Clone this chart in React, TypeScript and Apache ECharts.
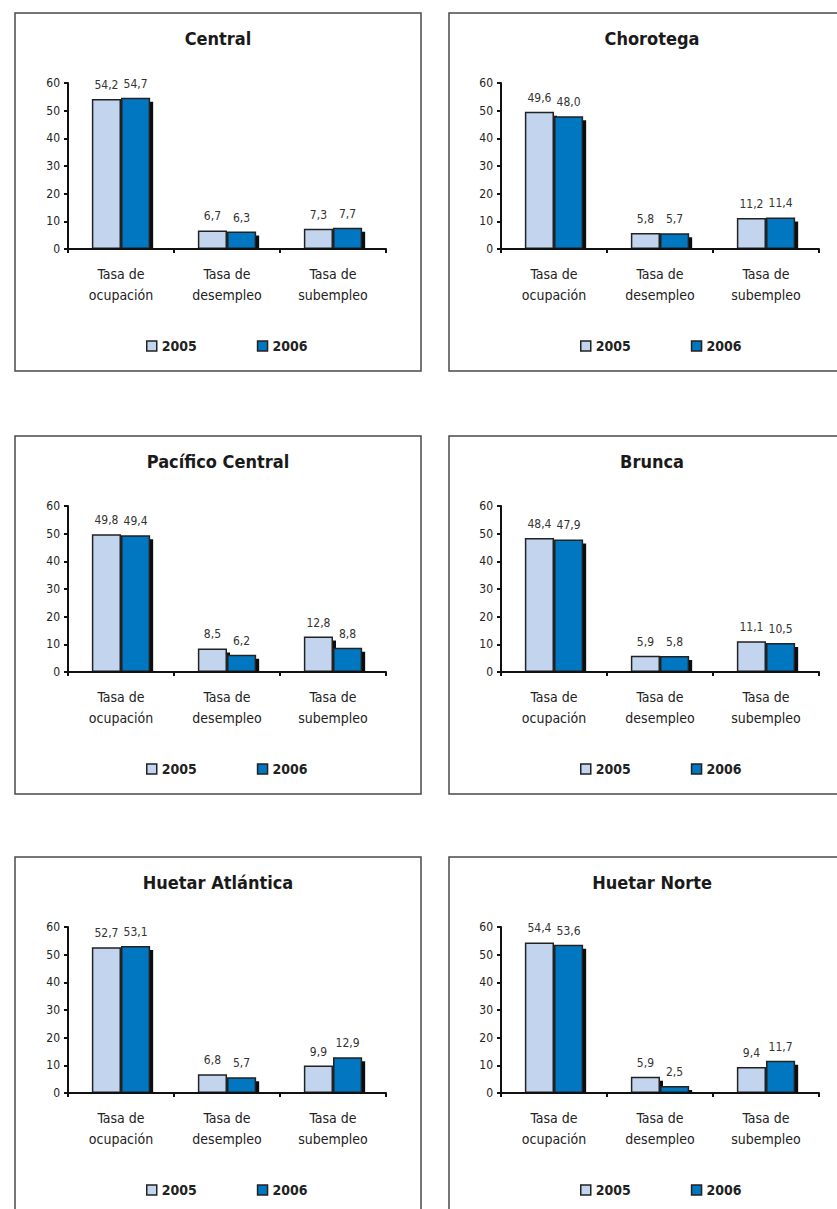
import React, { useEffect, useRef } from "react";
import * as echarts from "echarts";

const categories = ["Tasa de\nocupación", "Tasa de\ndesempleo", "Tasa de\nsubempleo"];
const years = ["2005", "2006"];
const regions = ["Central", "Chorotega", "Pacífico Central", "Brunca", "Huetar Atlántica", "Huetar Norte"];

const central2005 = [54.2, 6.7, 7.3];
const central2006 = [54.7, 6.3, 7.7];
const chorotega2005 = [49.6, 5.8, 11.2];
const chorotega2006 = [48.0, 5.7, 11.4];
const pacifico2005 = [49.8, 8.5, 12.8];
const pacifico2006 = [49.4, 6.2, 8.8];
const brunca2005 = [48.4, 5.9, 11.1];
const brunca2006 = [47.9, 5.8, 10.5];
const atlantica2005 = [52.7, 6.8, 9.9];
const atlantica2006 = [53.1, 5.7, 12.9];
const norte2005 = [54.4, 5.9, 9.4];
const norte2006 = [53.6, 2.5, 11.7];

const values2005 = [central2005, chorotega2005, pacifico2005, brunca2005, atlantica2005, norte2005];
const values2006 = [central2006, chorotega2006, pacifico2006, brunca2006, atlantica2006, norte2006];

const yMin = 0;
const yMax = 60;
const yInterval = 10;

const FONT = '"Liberation Sans Narrow", "DejaVu Sans Condensed", "Roboto Condensed", sans-serif';
const colors = ["#C3D4EE", "#0077C0"];

const colLefts = [15, 449];
const rowTops = [13, 436, 857];
const PANEL_W = 406;
const PANEL_H = 358;
const GRID_W = 318;
const GRID_H = 166;

export default function App() {
  const ref = useRef<HTMLDivElement>(null);

  useEffect(() => {
    if (!ref.current) return;
    const chart = echarts.init(ref.current, undefined, { renderer: "svg" });

    const grids: any[] = [];
    const xAxes: any[] = [];
    const yAxes: any[] = [];
    const series: any[] = [];
    const legends: any[] = [];
    const graphics: any[] = [];

    regions.forEach((region, i) => {
      const L = colLefts[i % 2];
      const T = rowTops[Math.floor(i / 2)];
      const gLeft = L + (i % 2 === 0 ? 53 : 52);
      const gTop = T + 70;

      graphics.push({
        type: "rect",
        shape: { x: L, y: T, width: PANEL_W, height: PANEL_H },
        style: { fill: "#fff", stroke: "#4a4a4a", lineWidth: 1.5 },
        z: -10,
        silent: true,
      });
      // white strip below the axis line hides the bar shadows' lower edge
      graphics.push({
        type: "rect",
        shape: { x: gLeft + 2, y: gTop + GRID_H + 1, width: GRID_W, height: 6 },
        style: { fill: "#fff" },
        z: 5,
        silent: true,
      });
      graphics.push({
        type: "text",
        x: L + 203,
        y: T + 25,
        style: {
          text: region,
          fontFamily: FONT,
          fontWeight: "bold",
          fontSize: 18,
          fill: "#1a1a1a",
          textAlign: "center",
          textVerticalAlign: "middle",
        },
        z: 10,
      });

      grids.push({
        left: gLeft,
        top: gTop,
        width: GRID_W,
        height: GRID_H,
        containLabel: false,
      });

      xAxes.push({
        type: "category",
        gridIndex: i,
        data: categories,
        boundaryGap: true,
        z: 10,
        axisLine: { show: true, lineStyle: { color: "#111", width: 2 } },
        axisTick: { show: true, length: 4, lineStyle: { color: "#111", width: 2 } },
        axisLabel: {
          fontFamily: FONT,
          fontSize: 14,
          color: "#222",
          lineHeight: 21,
          margin: 14,
          interval: 0,
        },
        splitLine: { show: false },
      });

      yAxes.push({
        type: "value",
        gridIndex: i,
        min: yMin,
        max: yMax,
        interval: yInterval,
        z: 10,
        axisLine: { show: true, lineStyle: { color: "#111", width: 2 } },
        axisTick: { show: true, length: 4, lineStyle: { color: "#111", width: 2 } },
        axisLabel: { fontFamily: FONT, fontSize: 12, color: "#222", margin: 8 },
        splitLine: { show: false },
      });

      [values2005[i], values2006[i]].forEach((vals, k) => {
        series.push({
          type: "bar",
          name: years[k],
          xAxisIndex: i,
          yAxisIndex: i,
          data: vals,
          barGap: "0%",
          barCategoryGap: "45%",
          itemStyle: {
            color: colors[k],
            borderColor: "#222",
            borderWidth: 1.5,
            shadowColor: "#111",
            shadowBlur: 0,
            shadowOffsetX: 3,
            shadowOffsetY: 4,
          },
          label: {
            show: true,
            position: "top",
            distance: 8,
            fontFamily: FONT,
            fontSize: 12,
            color: "#333",
            formatter: (p: any) => Number(p.value).toFixed(1).replace(".", ","),
          },
        });
      });

      legends.push({
        data: years,
        left: L + 131,
        top: T + 326,
        padding: 0,
        itemWidth: 10,
        itemHeight: 10,
        itemGap: 60,
        icon: "rect",
        textStyle: { fontFamily: FONT, fontSize: 14, fontWeight: "bold", color: "#222" },
        itemStyle: { borderColor: "#222", borderWidth: 1.5, shadowBlur: 0, shadowOffsetX: 0, shadowOffsetY: 0, shadowColor: "transparent" },
        selectedMode: false,
      });
    });

    chart.setOption({
      animation: false,
      backgroundColor: "#fff",
      grid: grids,
      xAxis: xAxes,
      yAxis: yAxes,
      series,
      legend: legends,
      graphic: graphics,
    });

    return () => chart.dispose();
  }, []);

  return (
    <div
      ref={ref}
      style={{ position: "absolute", left: 0, top: 0, width: 837, height: 1209 }}
    />
  );
}
